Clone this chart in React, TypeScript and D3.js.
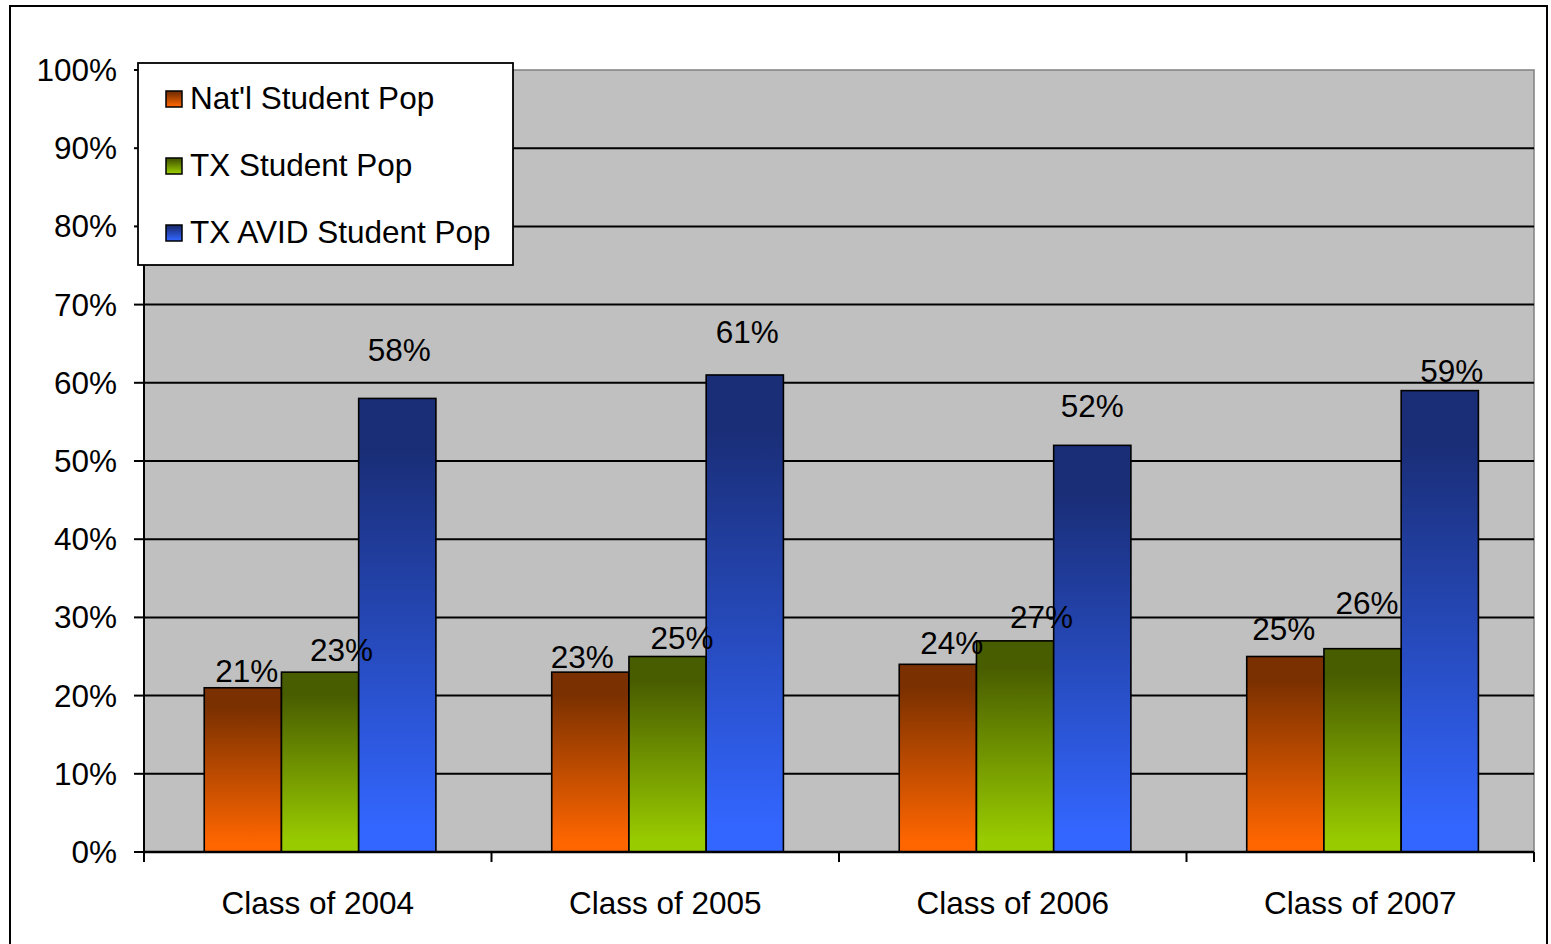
import { useEffect, useRef } from 'react';
import * as d3 from 'd3';

const categories = ['Class of 2004', 'Class of 2005', 'Class of 2006', 'Class of 2007'];
const seriesNames = ["Nat'l Student Pop", 'TX Student Pop', 'TX AVID Student Pop'];
const natlValues = [21, 23, 24, 25];
const txValues = [23, 25, 27, 26];
const avidValues = [58, 61, 52, 59];
const yTicks = [0, 10, 20, 30, 40, 50, 60, 70, 80, 90, 100];

// data labels were hand-moved in the original chart: [dx from bar centre, gap above bar top]
const labelNudge = [
  [[4, 5.5], [21.5, 11], [2, 37]],
  [[-8, 4.5], [14.5, 8], [2.5, 32]],
  [[14, 10], [26.5, 13], [0, 28]],
  [[-1.5, 17], [4.5, 35], [12, 9]],
];

const WIDTH = 1551;
const HEIGHT = 944;
const PLOT = { left: 144, right: 1534, top: 70, bottom: 852 };
const FONT = '"Liberation Sans", Arial, sans-serif';
const FONT_SIZE = 31.5;

const GRADIENTS = [
  { id: 'g-natl', top: '#7a3000', bottom: '#ff6600' },
  { id: 'g-tx', top: '#485c00', bottom: '#99cc00' },
  { id: 'g-avid', top: '#1a2e78', bottom: '#3366ff' },
];

export default function App() {
  const svgRef = useRef<SVGSVGElement>(null);

  useEffect(() => {
    if (!svgRef.current) return;
    const svg = d3.select(svgRef.current);
    svg.selectAll('*').remove();

    const values = [natlValues, txValues, avidValues];

    const x0 = d3
      .scaleBand<string>()
      .domain(categories)
      .range([PLOT.left, PLOT.right])
      .padding(0);

    const x1 = d3
      .scaleBand<string>()
      .domain(seriesNames)
      .range([0, x0.bandwidth()])
      .paddingInner(0)
      .paddingOuter(0.75)
      .align(0.52);

    const y = d3.scaleLinear().domain([0, 100]).range([PLOT.bottom, PLOT.top]);

    // gradients
    const defs = svg.append('defs');
    GRADIENTS.forEach((g) => {
      const lg = defs
        .append('linearGradient')
        .attr('id', g.id)
        .attr('x1', 0)
        .attr('y1', 0)
        .attr('x2', 0)
        .attr('y2', 1);
      lg.append('stop').attr('offset', '0%').attr('stop-color', g.top);
      lg.append('stop').attr('offset', '12%').attr('stop-color', g.top);
      lg.append('stop').attr('offset', '95%').attr('stop-color', g.bottom);
      lg.append('stop').attr('offset', '100%').attr('stop-color', g.bottom);
    });

    // outer chart border
    svg
      .append('rect')
      .attr('x', 10)
      .attr('y', 6)
      .attr('width', 1537)
      .attr('height', HEIGHT + 10)
      .attr('fill', '#fff')
      .attr('stroke', '#000')
      .attr('stroke-width', 2);

    // plot background
    svg
      .append('rect')
      .attr('x', PLOT.left)
      .attr('y', PLOT.top)
      .attr('width', PLOT.right - PLOT.left)
      .attr('height', PLOT.bottom - PLOT.top)
      .attr('fill', '#c0c0c0')
      .attr('stroke', '#808080')
      .attr('stroke-width', 1.5);

    // gridlines
    svg
      .append('g')
      .selectAll('line')
      .data(yTicks.filter((t) => t > 0 && t < 100))
      .join('line')
      .attr('x1', PLOT.left)
      .attr('x2', PLOT.right)
      .attr('y1', (d) => y(d))
      .attr('y2', (d) => y(d))
      .attr('stroke', '#000')
      .attr('stroke-width', 2);

    // bars
    categories.forEach((cat, ci) => {
      seriesNames.forEach((s, si) => {
        const v = values[si][ci];
        svg
          .append('rect')
          .attr('x', x0(cat)! + x1(s)!)
          .attr('y', y(v))
          .attr('width', x1.bandwidth())
          .attr('height', y(0) - y(v))
          .attr('fill', `url(#${GRADIENTS[si].id})`)
          .attr('stroke', '#000')
          .attr('stroke-width', 1.6);
      });
    });

    // value labels
    categories.forEach((cat, ci) => {
      seriesNames.forEach((s, si) => {
        const v = values[si][ci];
        const [dx, gap] = labelNudge[ci][si];
        svg
          .append('text')
          .attr('x', x0(cat)! + x1(s)! + x1.bandwidth() / 2 + dx)
          .attr('y', y(v) - gap)
          .attr('text-anchor', 'middle')
          .attr('font-family', FONT)
          .attr('font-size', FONT_SIZE)
          .attr('fill', '#000')
          .text(`${v}%`);
      });
    });

    // y axis
    svg
      .append('line')
      .attr('x1', PLOT.left)
      .attr('x2', PLOT.left)
      .attr('y1', PLOT.top)
      .attr('y2', PLOT.bottom + 10)
      .attr('stroke', '#000')
      .attr('stroke-width', 2);

    yTicks.forEach((t) => {
      svg
        .append('line')
        .attr('x1', PLOT.left - 10)
        .attr('x2', PLOT.left)
        .attr('y1', y(t))
        .attr('y2', y(t))
        .attr('stroke', '#000')
        .attr('stroke-width', 2);
      svg
        .append('text')
        .attr('x', 117)
        .attr('y', y(t) + 11)
        .attr('text-anchor', 'end')
        .attr('font-family', FONT)
        .attr('font-size', FONT_SIZE)
        .attr('fill', '#000')
        .text(`${t}%`);
    });

    // x axis
    svg
      .append('line')
      .attr('x1', PLOT.left)
      .attr('x2', PLOT.right)
      .attr('y1', PLOT.bottom)
      .attr('y2', PLOT.bottom)
      .attr('stroke', '#000')
      .attr('stroke-width', 2.5);

    const boundaries = [...categories.map((c) => x0(c)!), PLOT.right];
    boundaries.forEach((bx) => {
      svg
        .append('line')
        .attr('x1', bx)
        .attr('x2', bx)
        .attr('y1', PLOT.bottom)
        .attr('y2', PLOT.bottom + 10)
        .attr('stroke', '#000')
        .attr('stroke-width', 2);
    });

    categories.forEach((cat) => {
      svg
        .append('text')
        .attr('x', x0(cat)! + x0.bandwidth() / 2)
        .attr('y', 914)
        .attr('text-anchor', 'middle')
        .attr('font-family', FONT)
        .attr('font-size', FONT_SIZE)
        .attr('fill', '#000')
        .text(cat);
    });

    // legend
    const legend = svg.append('g');
    legend
      .append('rect')
      .attr('x', 138)
      .attr('y', 63)
      .attr('width', 375)
      .attr('height', 202)
      .attr('fill', '#fff')
      .attr('stroke', '#000')
      .attr('stroke-width', 1.8);

    seriesNames.forEach((s, si) => {
      const cy = 99 + si * 67;
      legend
        .append('rect')
        .attr('x', 166)
        .attr('y', cy - 8)
        .attr('width', 16)
        .attr('height', 16)
        .attr('fill', `url(#${GRADIENTS[si].id})`)
        .attr('stroke', '#000')
        .attr('stroke-width', 1.5);
      legend
        .append('text')
        .attr('x', 190)
        .attr('y', cy + 10)
        .attr('font-family', FONT)
        .attr('font-size', FONT_SIZE)
        .attr('fill', '#000')
        .text(s);
    });
  }, []);

  return (
    <svg
      ref={svgRef}
      width={WIDTH}
      height={HEIGHT}
      style={{ position: 'absolute', left: 0, top: 0, display: 'block' }}
    />
  );
}
